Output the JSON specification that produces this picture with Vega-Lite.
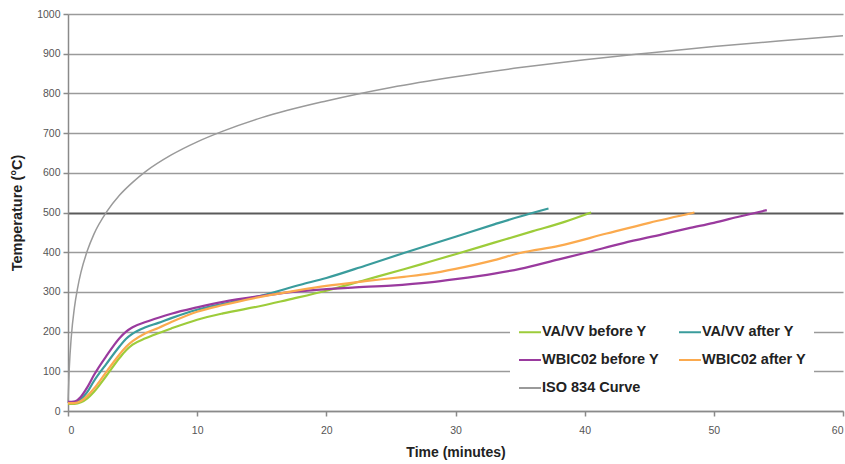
{
  "$schema": "https://vega.github.io/schema/vega-lite/v6.json",
  "width": 775,
  "height": 397,
  "autosize": "none",
  "padding": {"left": 68, "top": 14, "right": 2, "bottom": 53},
  "background": "white",
  "config": {"view": {"stroke": null}, "font": "Liberation Sans"},
  "datasets": {
    "iso": [
      {"t": 0, "T": 20}, {"t": 0.1, "T": 108}, {"t": 0.25, "T": 185}, {"t": 0.5, "T": 261}, {"t": 0.75, "T": 311},
      {"t": 1, "T": 349}, {"t": 1.5, "T": 404}, {"t": 2, "T": 445}, {"t": 3, "T": 502}, {"t": 4, "T": 544},
      {"t": 5, "T": 576}, {"t": 6, "T": 603}, {"t": 8, "T": 645}, {"t": 10, "T": 678}, {"t": 12, "T": 705},
      {"t": 15, "T": 739}, {"t": 20, "T": 781}, {"t": 25, "T": 815}, {"t": 30, "T": 842}, {"t": 35, "T": 865},
      {"t": 40, "T": 885}, {"t": 45, "T": 902}, {"t": 50, "T": 918}, {"t": 55, "T": 932}, {"t": 60, "T": 945}
    ]
  },
  "data": {"values": [
    {"series": "VA/VV before Y", "t": 0, "T": 18}, {"series": "VA/VV before Y", "t": 0.5, "T": 18}, {"series": "VA/VV before Y", "t": 1, "T": 22},
    {"series": "VA/VV before Y", "t": 1.5, "T": 32}, {"series": "VA/VV before Y", "t": 2, "T": 48}, {"series": "VA/VV before Y", "t": 3, "T": 90},
    {"series": "VA/VV before Y", "t": 4, "T": 134}, {"series": "VA/VV before Y", "t": 4.5, "T": 153}, {"series": "VA/VV before Y", "t": 5, "T": 167},
    {"series": "VA/VV before Y", "t": 6, "T": 183}, {"series": "VA/VV before Y", "t": 7, "T": 196}, {"series": "VA/VV before Y", "t": 8, "T": 208},
    {"series": "VA/VV before Y", "t": 10, "T": 230}, {"series": "VA/VV before Y", "t": 12, "T": 246}, {"series": "VA/VV before Y", "t": 15, "T": 265},
    {"series": "VA/VV before Y", "t": 17, "T": 280}, {"series": "VA/VV before Y", "t": 20, "T": 303}, {"series": "VA/VV before Y", "t": 23, "T": 330},
    {"series": "VA/VV before Y", "t": 26, "T": 357}, {"series": "VA/VV before Y", "t": 28, "T": 376}, {"series": "VA/VV before Y", "t": 30, "T": 395},
    {"series": "VA/VV before Y", "t": 33, "T": 424}, {"series": "VA/VV before Y", "t": 36, "T": 453}, {"series": "VA/VV before Y", "t": 38.5, "T": 477},
    {"series": "VA/VV before Y", "t": 40.5, "T": 500},

    {"series": "VA/VV after Y", "t": 0, "T": 22}, {"series": "VA/VV after Y", "t": 0.5, "T": 23}, {"series": "VA/VV after Y", "t": 1, "T": 30},
    {"series": "VA/VV after Y", "t": 1.5, "T": 48}, {"series": "VA/VV after Y", "t": 2, "T": 75}, {"series": "VA/VV after Y", "t": 3, "T": 120},
    {"series": "VA/VV after Y", "t": 4, "T": 163}, {"series": "VA/VV after Y", "t": 4.5, "T": 182}, {"series": "VA/VV after Y", "t": 5, "T": 195},
    {"series": "VA/VV after Y", "t": 6, "T": 211}, {"series": "VA/VV after Y", "t": 7, "T": 222}, {"series": "VA/VV after Y", "t": 8, "T": 234},
    {"series": "VA/VV after Y", "t": 10, "T": 255}, {"series": "VA/VV after Y", "t": 12, "T": 270}, {"series": "VA/VV after Y", "t": 15, "T": 291},
    {"series": "VA/VV after Y", "t": 18, "T": 318}, {"series": "VA/VV after Y", "t": 20, "T": 335}, {"series": "VA/VV after Y", "t": 23, "T": 366},
    {"series": "VA/VV after Y", "t": 26, "T": 398}, {"series": "VA/VV after Y", "t": 30, "T": 439}, {"series": "VA/VV after Y", "t": 33, "T": 470},
    {"series": "VA/VV after Y", "t": 35, "T": 490}, {"series": "VA/VV after Y", "t": 37.2, "T": 510},

    {"series": "WBIC02 before Y", "t": 0, "T": 23}, {"series": "WBIC02 before Y", "t": 0.5, "T": 24}, {"series": "WBIC02 before Y", "t": 1, "T": 36},
    {"series": "WBIC02 before Y", "t": 1.5, "T": 60}, {"series": "WBIC02 before Y", "t": 2, "T": 90}, {"series": "WBIC02 before Y", "t": 3, "T": 140},
    {"series": "WBIC02 before Y", "t": 4, "T": 184}, {"series": "WBIC02 before Y", "t": 4.5, "T": 200}, {"series": "WBIC02 before Y", "t": 5, "T": 211},
    {"series": "WBIC02 before Y", "t": 6, "T": 224}, {"series": "WBIC02 before Y", "t": 7, "T": 235}, {"series": "WBIC02 before Y", "t": 8, "T": 245},
    {"series": "WBIC02 before Y", "t": 10, "T": 261}, {"series": "WBIC02 before Y", "t": 12, "T": 275}, {"series": "WBIC02 before Y", "t": 15, "T": 290},
    {"series": "WBIC02 before Y", "t": 18, "T": 302}, {"series": "WBIC02 before Y", "t": 20, "T": 307}, {"series": "WBIC02 before Y", "t": 22, "T": 311},
    {"series": "WBIC02 before Y", "t": 25, "T": 316}, {"series": "WBIC02 before Y", "t": 28, "T": 324}, {"series": "WBIC02 before Y", "t": 30, "T": 332},
    {"series": "WBIC02 before Y", "t": 33, "T": 346}, {"series": "WBIC02 before Y", "t": 35, "T": 358}, {"series": "WBIC02 before Y", "t": 38, "T": 382},
    {"series": "WBIC02 before Y", "t": 40, "T": 398}, {"series": "WBIC02 before Y", "t": 43, "T": 423}, {"series": "WBIC02 before Y", "t": 46, "T": 445},
    {"series": "WBIC02 before Y", "t": 48, "T": 460}, {"series": "WBIC02 before Y", "t": 50, "T": 474}, {"series": "WBIC02 before Y", "t": 52, "T": 490},
    {"series": "WBIC02 before Y", "t": 54.1, "T": 506},

    {"series": "WBIC02 after Y", "t": 0, "T": 20}, {"series": "WBIC02 after Y", "t": 0.5, "T": 20}, {"series": "WBIC02 after Y", "t": 1, "T": 25},
    {"series": "WBIC02 after Y", "t": 1.5, "T": 38}, {"series": "WBIC02 after Y", "t": 2, "T": 56}, {"series": "WBIC02 after Y", "t": 3, "T": 100},
    {"series": "WBIC02 after Y", "t": 4, "T": 143}, {"series": "WBIC02 after Y", "t": 4.5, "T": 162}, {"series": "WBIC02 after Y", "t": 5, "T": 176},
    {"series": "WBIC02 after Y", "t": 6, "T": 196}, {"series": "WBIC02 after Y", "t": 7, "T": 209}, {"series": "WBIC02 after Y", "t": 8, "T": 224},
    {"series": "WBIC02 after Y", "t": 10, "T": 250}, {"series": "WBIC02 after Y", "t": 12, "T": 267}, {"series": "WBIC02 after Y", "t": 15, "T": 288},
    {"series": "WBIC02 after Y", "t": 18, "T": 305}, {"series": "WBIC02 after Y", "t": 20, "T": 315}, {"series": "WBIC02 after Y", "t": 23, "T": 327},
    {"series": "WBIC02 after Y", "t": 26, "T": 338}, {"series": "WBIC02 after Y", "t": 28, "T": 346}, {"series": "WBIC02 after Y", "t": 30, "T": 358},
    {"series": "WBIC02 after Y", "t": 33, "T": 380}, {"series": "WBIC02 after Y", "t": 35, "T": 398}, {"series": "WBIC02 after Y", "t": 38, "T": 416},
    {"series": "WBIC02 after Y", "t": 41.7, "T": 447}, {"series": "WBIC02 after Y", "t": 45, "T": 474}, {"series": "WBIC02 after Y", "t": 48.5, "T": 500}
  ]},
  "layer": [
    {
      "data": {"name": "iso"},
      "transform": [{"calculate": "'ISO 834 Curve'", "as": "series"}],
      "mark": {"type": "line", "interpolate": "monotone", "strokeWidth": 1.5},
      "encoding": {
        "x": {"field": "t", "type": "quantitative"},
        "y": {"field": "T", "type": "quantitative"},
        "color": {"field": "series", "type": "nominal"}
      }
    },
    {
      "mark": {"type": "line", "interpolate": "monotone", "strokeWidth": 2.2},
      "encoding": {
        "x": {"field": "t", "type": "quantitative"},
        "y": {"field": "T", "type": "quantitative"},
        "color": {"field": "series", "type": "nominal"},
        "detail": {"field": "series"}
      }
    }
  ],
  "encoding": {
    "x": {"field": "t", "type": "quantitative",
      "scale": {"domain": [0, 60], "nice": false},
      "axis": {"title": "Time (minutes)", "values": [0, 10, 20, 30, 40, 50, 60], "grid": false, "format": "d",
        "domainColor": "#8a8a8a", "domainWidth": 1.5, "tickColor": "#8a8a8a", "tickWidth": 1.5, "tickSize": 5,
        "labelColor": "#555", "labelFontSize": 10.5, "labelPadding": 9,
        "titleFontSize": 14, "titleFontWeight": "bold", "titleColor": "#222", "titlePadding": 10}},
    "y": {"field": "T", "type": "quantitative",
      "scale": {"domain": [0, 1000], "nice": false},
      "axis": {"title": "Temperature (°C)", "values": [0, 100, 200, 300, 400, 500, 600, 700, 800, 900, 1000], "grid": true, "format": "d",
        "gridColor": {"condition": {"test": "datum.value === 500", "value": "#5a5a5a"}, "value": "#9a9a9a"},
        "gridWidth": {"condition": {"test": "datum.value === 500", "value": 2}, "value": 1.5},
        "domainColor": "#8a8a8a", "domainWidth": 1.5, "tickColor": "#8a8a8a", "tickWidth": 1.5, "tickSize": 5,
        "labelColor": "#555", "labelFontSize": 10.5, "labelPadding": 3,
        "titleFontSize": 14.5, "titleFontWeight": "bold", "titleColor": "#222", "titlePadding": 12}},
    "color": {"field": "series", "type": "nominal",
      "scale": {"domain": ["VA/VV before Y", "WBIC02 before Y", "ISO 834 Curve", "VA/VV after Y", "WBIC02 after Y"],
                "range": ["#9dcc3a", "#9a3a9e", "#9a9a9a", "#3a9c9c", "#fbaa4e"]},
      "legend": {"title": null, "orient": "none", "legendX": 442, "legendY": 298, "columns": 2,
        "fillColor": "white", "padding": 8, "symbolType": "stroke", "symbolSize": 484, "symbolStrokeWidth": 2,
        "labelFontSize": 14.5, "labelFontWeight": "bold", "labelColor": "#222", "labelOffset": 0,
        "columnPadding": 16, "rowPadding": 9}}
  }
}
